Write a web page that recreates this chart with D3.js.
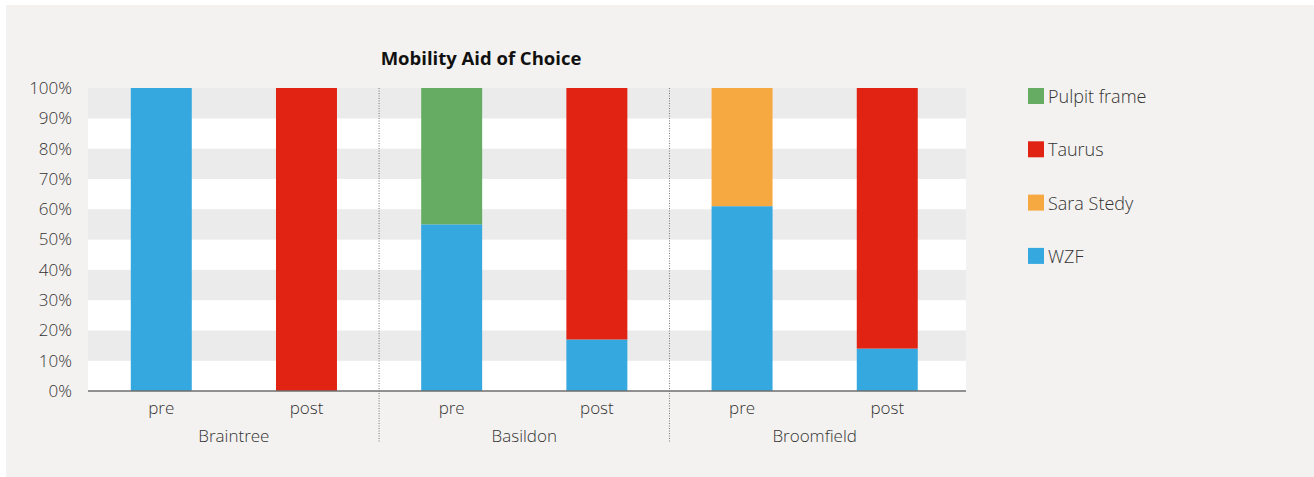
<!DOCTYPE html>
<html>
<head>
<meta charset="utf-8">
<script src="https://cdn.jsdelivr.net/npm/d3@7"></script>
<style>
  body { margin: 0; background: #ffffff; }
  svg text { font-family: "Open Sans", "Noto Sans", sans-serif; font-weight: 300; }
</style>
</head>
<body>
<svg id="chart" width="1314" height="477"></svg>
<script>
// sites and periods
var sites = ["Braintree", "Basildon", "Broomfield"];
var periods = ["pre", "post"];

// stacking order bottom -> top
var seriesNames = ["WZF", "Sara Stedy", "Taurus", "Pulpit frame"];
var seriesColors = ["#35a8e0", "#f7a941", "#e02312", "#66ad63"];

// values in percent, one row per bar (site/period)
var wzf        = [100, 0, 55, 17, 61, 14];
var saraStedy  = [0, 0, 0, 0, 39, 0];
var taurus     = [0, 100, 0, 83, 0, 86];
var pulpit     = [0, 0, 45, 0, 0, 0];

var yTicks = [0, 10, 20, 30, 40, 50, 60, 70, 80, 90, 100];
var legendOrder = ["Pulpit frame", "Taurus", "Sara Stedy", "WZF"];

var svg = d3.select("#chart");

// background panel
svg.append("rect")
    .attr("x", 6).attr("y", 5)
    .attr("width", 1308).attr("height", 472)
    .attr("fill", "#f3f2f0");

var plotL = 88, plotR = 966, plotT = 88, plotB = 391;

var bars = [];
sites.forEach(function (s, i) {
    periods.forEach(function (p, j) {
        var k = i * 2 + j;
        bars.push({
            key: s + "-" + p, site: s, period: p,
            "WZF": wzf[k], "Sara Stedy": saraStedy[k], "Taurus": taurus[k], "Pulpit frame": pulpit[k]
        });
    });
});

var x = d3.scaleBand()
    .domain(bars.map(function (d) { return d.key; }))
    .range([plotL, plotR])
    .paddingInner(0.58)
    .paddingOuter(0.3135)
    .align(0.47);

var y = d3.scaleLinear().domain([0, 100]).range([plotB, plotT]);

var color = d3.scaleOrdinal().domain(seriesNames).range(seriesColors);

// alternating bands
var g = svg.append("g");
for (var i = 0; i < yTicks.length - 1; i++) {
    g.append("rect")
        .attr("x", plotL)
        .attr("y", y(yTicks[i + 1]))
        .attr("width", plotR - plotL)
        .attr("height", y(yTicks[i]) - y(yTicks[i + 1]))
        .attr("fill", i % 2 == 1 ? "#ebebeb" : "#ffffff");
}

// stacked bars
var stack = d3.stack().keys(seriesNames)(bars);
g.selectAll(".layer")
    .data(stack)
    .enter().append("g")
    .attr("fill", function (d) { return color(d.key); })
    .selectAll("rect")
    .data(function (d) { return d; })
    .enter().append("rect")
    .attr("x", function (d) { return x(d.data.key); })
    .attr("y", function (d) { return y(d[1]); })
    .attr("width", x.bandwidth())
    .attr("height", function (d) { return y(d[0]) - y(d[1]); });

// y axis labels
var yAxis = svg.append("g")
    .attr("transform", "translate(" + plotL + ",0)")
    .call(d3.axisLeft(y).tickValues(yTicks).tickSize(0).tickPadding(16)
        .tickFormat(function (d) { return d + "%"; }));
yAxis.select(".domain").remove();
yAxis.selectAll("text")
    .attr("font-size", 17)
    .attr("fill", "#333")
    .style("font-family", "'Open Sans', sans-serif");

// x axis with period labels
var xAxis = svg.append("g")
    .attr("transform", "translate(0," + plotB + ")")
    .call(d3.axisBottom(x).tickSize(0).tickPadding(11)
        .tickFormat(function (d) { return d.split("-")[1]; }));
xAxis.select(".domain")
    .attr("stroke", "#6e6e6e")
    .attr("stroke-width", 1.6)
    .attr("d", "M" + plotL + ",0H" + plotR);
xAxis.selectAll("text")
    .attr("font-size", 17)
    .attr("fill", "#333")
    .style("font-family", "'Open Sans', sans-serif");

// site labels and dotted separators
var bw = x.bandwidth();
sites.forEach(function (s, i) {
    var x0 = x(s + "-pre"), x1 = x(s + "-post") + bw;
    svg.append("text")
        .attr("x", (x0 + x1) / 2)
        .attr("y", 442)
        .attr("text-anchor", "middle")
        .attr("font-size", 17)
        .attr("fill", "#333")
        .text(s);
    if (i > 0) {
        var sx = (x(sites[i - 1] + "-post") + bw + x0) / 2;
        svg.append("line")
            .attr("x1", sx).attr("x2", sx)
            .attr("y1", plotT).attr("y2", 443)
            .attr("stroke", "#777")
            .attr("stroke-width", 1)
            .attr("stroke-dasharray", "1,1.5");
    }
});

// title
svg.append("text")
    .attr("x", 481)
    .attr("y", 65)
    .attr("text-anchor", "middle")
    .attr("font-size", 18.5)
    .style("font-weight", "bold")
    .attr("fill", "#111")
    .text("Mobility Aid of Choice");

// legend
var legend = svg.append("g").attr("transform", "translate(1028,88)");
legendOrder.forEach(function (name, i) {
    var row = legend.append("g").attr("transform", "translate(0," + (i * 53.3) + ")");
    row.append("rect")
        .attr("width", 16).attr("height", 16)
        .attr("fill", color(name));
    row.append("text")
        .attr("x", 20).attr("y", 15)
        .attr("font-size", 18)
        .attr("fill", "#333")
        .text(name);
});
</script>
</body>
</html>
